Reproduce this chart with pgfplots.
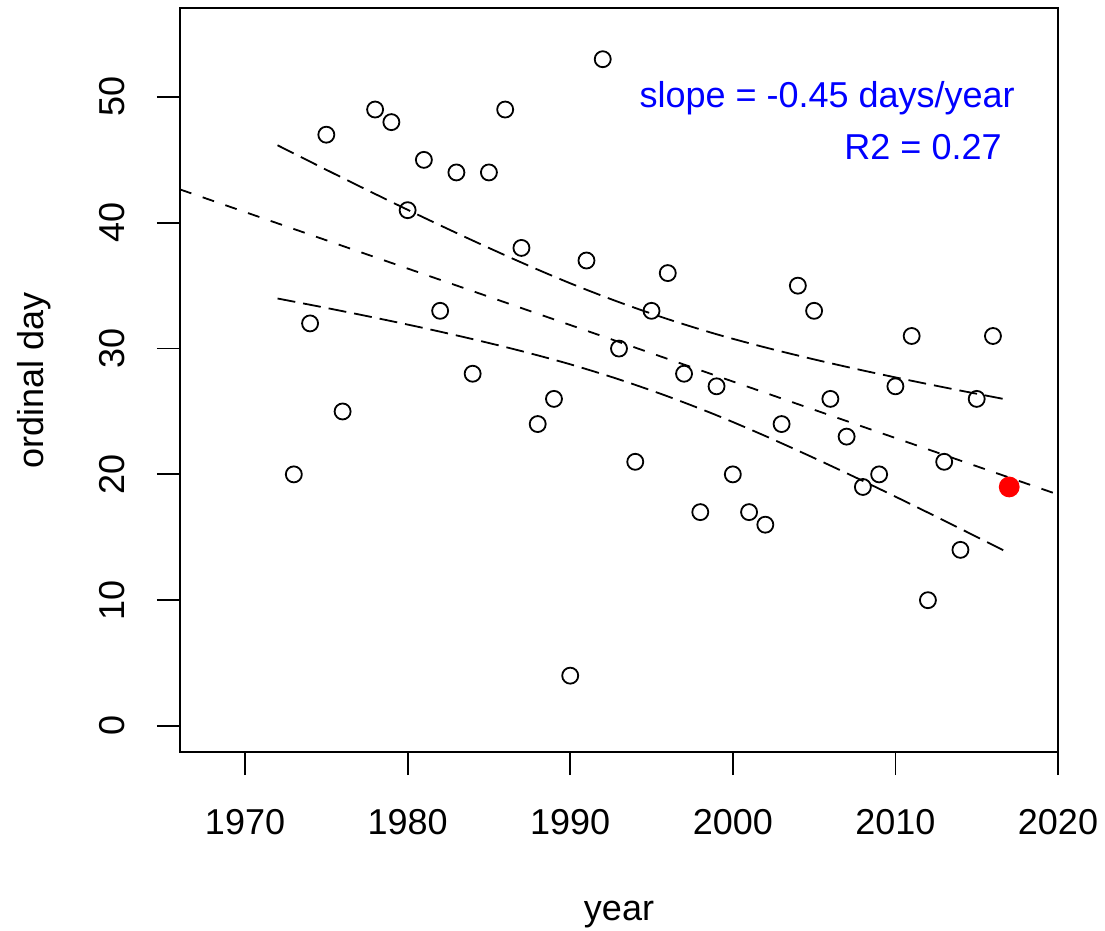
\documentclass[border=0pt]{standalone}
\usepackage{fontspec}
\setmainfont{Liberation Sans}
\usepackage{pgfplots}
\pgfplotsset{compat=1.18}

% yearly ordinal day (open circles), last year highlighted in red
\pgfplotstableread{
year day
1973 20
1974 32
1975 47
1976 25
1978 49
1979 48
1980 41
1981 45
1982 33
1983 44
1984 28
1985 44
1986 49
1987 38
1988 24
1989 26
1990 4
1991 37
1992 53
1993 30
1994 21
1995 33
1996 36
1997 28
1998 17
1999 27
2000 20
2001 17
2002 16
2003 24
2004 35
2005 33
2006 26
2007 23
2008 19
2009 20
2010 27
2011 31
2012 10
2013 21
2014 14
2015 26
2016 31
}\obs

% confidence band
\pgfplotstableread{
year upper lower
1972 46.16 33.98
1975 44.21 33.23
1978 42.29 32.45
1981 40.41 31.63
1984 38.59 30.75
1987 36.84 29.80
1990 35.19 28.75
1993 33.69 27.55
1996 32.34 26.20
1999 31.14 24.70
2002 30.09 23.05
2005 29.14 21.30
2008 28.26 19.48
2011 27.44 17.60
2014 26.66 15.68
2017 25.91 13.73
}\band

\begin{document}
\fontsize{9}{11}\selectfont
\begin{tikzpicture}
\begin{axis}[
  name=ax,
  scale only axis,
  width=219.5pt,
  height=186pt,
  xmin=1966, xmax=2020,
  ymin=-2.07, ymax=57.07,
  xtick={1970,1980,...,2020},
  ytick={0,10,...,50},
  xtick pos=bottom,
  ytick pos=left,
  tick align=outside,
  major tick length=5.75pt,
  tick style={black, line width=0.45pt},
  axis line style={black, line width=0.45pt},
  /pgf/number format/assume math mode=true,
  /pgf/number format/set thousands separator={},
  xticklabel style={anchor=base, yshift=-14.75pt},
  yticklabel style={anchor=base, xshift=-8pt, rotate=90},
  xlabel={year},
  ylabel={ordinal day},
  xlabel style={at={(axis description cs:0.5,-0.2258)}, anchor=base},
  ylabel style={at={(axis description cs:-0.156,0.5)}, anchor=base},
  clip=true,
]
  % fitted line (abline)
  \addplot[black, line width=0.45pt, dash pattern=on 3pt off 3pt] coordinates {
    (1966,42.65) (2020,18.4)
  };
  % confidence limits
  \addplot[black, line width=0.45pt, dash pattern=on 4.5pt off 2pt, smooth] table[x=year, y=upper] {\band};
  \addplot[black, line width=0.45pt, dash pattern=on 4.5pt off 2pt, smooth] table[x=year, y=lower] {\band};

  \addplot[only marks, mark=o, mark size=2pt, mark options={black, line width=0.45pt}] table[x=year, y=day] {\obs};
  \addplot[only marks, mark=*, mark size=2.4pt, mark options={red, fill=red, draw=red}] coordinates {(2017,19)};

  \node[anchor=base, text=blue] at (axis cs:2005.8,49.2) {slope = -0.45 days/year};
  \node[anchor=base, text=blue] at (axis cs:2011.7,45.0) {R2 = 0.27};
\end{axis}
\pgfresetboundingbox
\useasboundingbox ([shift={(-45pt,-44.5pt)}]ax.south west) rectangle ([shift={(11.75pt,2pt)}]ax.north east);
\end{tikzpicture}
\end{document}
